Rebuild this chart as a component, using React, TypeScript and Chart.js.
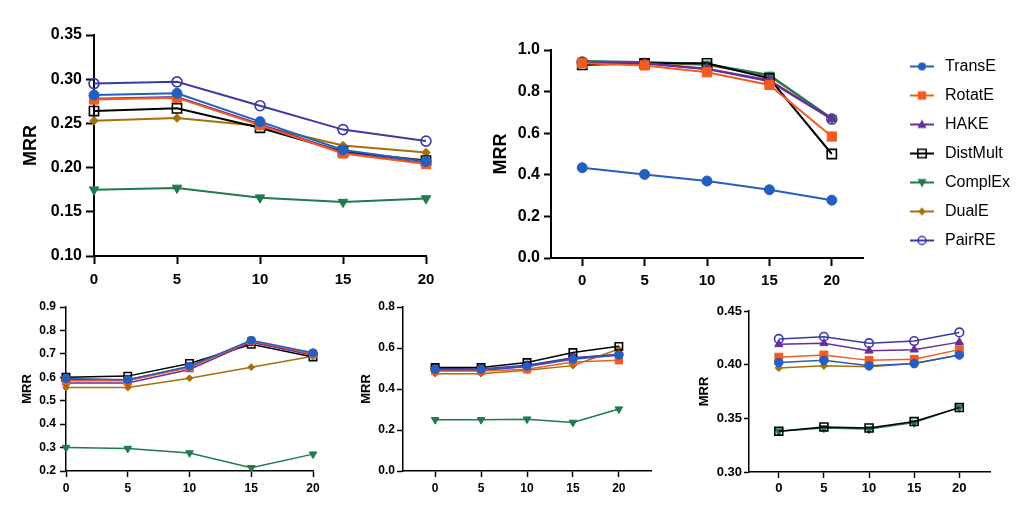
import React, { useEffect, useRef } from 'react';
import { Chart, registerables } from 'chart.js';

Chart.register(...registerables);

// ---------- shared categories ----------
const xValues = [0, 5, 10, 15, 20];
const models = ['TransE', 'RotatE', 'HAKE', 'DistMult', 'ComplEx', 'DualE', 'PairRE'];
const colors = ['#245fbf', '#f55a1e', '#6a2d9c', '#000000', '#1f7a4c', '#a66f0b', '#3c3aa6'];
const pointStyles = ['circle', 'rect', 'triangle', 'rect', 'triangle', 'rectRot', 'circle'];
const pointRotations = [0, 0, 0, 0, 180, 0, 0];
const hollow = [false, false, false, true, false, false, true];
const sizeFactor = [1, 1.3, 1.1, 1.3, 1.1, 0.85, 1];

// ---------- panel 1 (top-left) ----------
const p1TransE = [0.282, 0.284, 0.252, 0.220, 0.207];
const p1RotatE = [0.277, 0.279, 0.248, 0.216, 0.204];
const p1HAKE = [0.278, 0.280, 0.249, 0.217, 0.205];
const p1DistMult = [0.264, 0.267, 0.245, 0.218, 0.208];
const p1ComplEx = [0.175, 0.177, 0.166, 0.161, 0.165];
const p1DualE = [0.253, 0.256, 0.247, 0.225, 0.217];
const p1PairRE = [0.295, 0.297, 0.270, 0.243, 0.230];
const p1YTicks = [0.10, 0.15, 0.20, 0.25, 0.30, 0.35];

// ---------- panel 2 (top-right) ----------
const p2TransE = [0.434, 0.402, 0.370, 0.328, 0.278];
const p2RotatE = [0.936, 0.926, 0.893, 0.832, 0.584];
const p2HAKE = [0.940, 0.937, 0.910, 0.855, 0.669];
const p2DistMult = [0.928, 0.936, 0.936, 0.864, 0.500];
const p2ComplEx = [0.947, 0.942, 0.933, 0.880, 0.672];
const p2DualE = [0.945, 0.940, 0.928, 0.875, 0.670];
const p2PairRE = [0.942, 0.935, 0.908, 0.850, 0.668];
const p2YTicks = [0.0, 0.2, 0.4, 0.6, 0.8, 1.0];

// ---------- panel 3 (bottom-left) ----------
const p3TransE = [0.595, 0.590, 0.647, 0.758, 0.705];
const p3RotatE = [0.585, 0.585, 0.642, 0.755, 0.700];
const p3HAKE = [0.576, 0.576, 0.633, 0.750, 0.694];
const p3DistMult = [0.600, 0.605, 0.659, 0.741, 0.687];
const p3ComplEx = [0.300, 0.296, 0.277, 0.214, 0.272];
const p3DualE = [0.556, 0.556, 0.596, 0.643, 0.690];
const p3PairRE = [0.590, 0.590, 0.645, 0.752, 0.700];
const p3YTicks = [0.2, 0.3, 0.4, 0.5, 0.6, 0.7, 0.8, 0.9];

// ---------- panel 4 (bottom-middle) ----------
const p4TransE = [0.495, 0.495, 0.510, 0.545, 0.565];
const p4RotatE = [0.488, 0.488, 0.496, 0.532, 0.540];
const p4HAKE = [0.490, 0.490, 0.510, 0.550, 0.570];
const p4DistMult = [0.505, 0.505, 0.529, 0.578, 0.608];
const p4ComplEx = [0.250, 0.250, 0.253, 0.237, 0.302];
const p4DualE = [0.475, 0.475, 0.492, 0.514, 0.595];
const p4PairRE = [0.500, 0.498, 0.516, 0.552, 0.568];
const p4YTicks = [0.0, 0.2, 0.4, 0.6, 0.8];

// ---------- panel 5 (bottom-right) ----------
const p5TransE = [0.402, 0.404, 0.399, 0.401, 0.409];
const p5RotatE = [0.407, 0.409, 0.404, 0.405, 0.414];
const p5HAKE = [0.419, 0.420, 0.413, 0.414, 0.421];
const p5DistMult = [0.338, 0.342, 0.341, 0.347, 0.360];
const p5ComplEx = [0.338, 0.341, 0.340, 0.346, 0.360];
const p5DualE = [0.397, 0.399, 0.398, 0.401, 0.409];
const p5PairRE = [0.424, 0.426, 0.420, 0.422, 0.430];
const p5YTicks = [0.30, 0.35, 0.40, 0.45];

const FONT = '"Liberation Sans", Arial, Helvetica, sans-serif';
const W = 1024;
const H = 520;
const LEGEND_LEFT = 894;
const LEGEND_W = 400;

type Panel = {
  series: number[][];
  yTicks: number[];
  yDec: number;
  L: number; T: number; R: number; B: number;
  xMin: number; xMax: number;
  titleCx: number; titleSize: number;
  yFont: number; xFont: number;
  yTickLen: number; yPad: number;
  xTickLen: number; xPad: number;
  axisW: number; lineW: number; r: number;
};

const panels: Panel[] = [
  {
    series: [p1TransE, p1RotatE, p1HAKE, p1DistMult, p1ComplEx, p1DualE, p1PairRE],
    yTicks: p1YTicks, yDec: 2,
    L: 94, T: 35, R: 426, B: 256, xMin: 0, xMax: 20,
    titleCx: 31.5, titleSize: 18, yFont: 16, xFont: 15,
    yTickLen: 8, yPad: 4, xTickLen: 8, xPad: 7, axisW: 2, lineW: 2, r: 5,
  },
  {
    series: [p2TransE, p2RotatE, p2HAKE, p2DistMult, p2ComplEx, p2DualE, p2PairRE],
    yTicks: p2YTicks, yDec: 1,
    L: 551, T: 50, R: 863, B: 258, xMin: -2.5, xMax: 22.5,
    titleCx: 501, titleSize: 18, yFont: 16, xFont: 15,
    yTickLen: 7, yPad: 4, xTickLen: 8, xPad: 6, axisW: 2, lineW: 2, r: 5,
  },
  {
    series: [p3TransE, p3RotatE, p3HAKE, p3DistMult, p3ComplEx, p3DualE, p3PairRE],
    yTicks: p3YTicks, yDec: 1,
    L: 66, T: 307, R: 313, B: 471, xMin: 0, xMax: 20,
    titleCx: 27, titleSize: 13, yFont: 12, xFont: 12,
    yTickLen: 6, yPad: 4, xTickLen: 6, xPad: 4, axisW: 1.5, lineW: 1.5, r: 4,
  },
  {
    series: [p4TransE, p4RotatE, p4HAKE, p4DistMult, p4ComplEx, p4DualE, p4PairRE],
    yTicks: p4YTicks, yDec: 1,
    L: 403, T: 307, R: 651, B: 471, xMin: -3.5, xMax: 23.5,
    titleCx: 366, titleSize: 13, yFont: 12, xFont: 12,
    yTickLen: 6, yPad: 2, xTickLen: 6, xPad: 4, axisW: 1.5, lineW: 1.5, r: 4,
  },
  {
    series: [p5TransE, p5RotatE, p5HAKE, p5DistMult, p5ComplEx, p5DualE, p5PairRE],
    yTicks: p5YTicks, yDec: 2,
    L: 749, T: 311, R: 990, B: 472, xMin: -3.3, xMax: 23.4,
    titleCx: 704, titleSize: 13, yFont: 13, xFont: 13,
    yTickLen: 5, yPad: 2, xTickLen: 6, xPad: 3, axisW: 1.5, lineW: 1.5, r: 4.3,
  },
];

function makePanel(canvas: HTMLCanvasElement, p: Panel): Chart {
  const titleLH = p.titleSize * 1.2;
  const padLeft = p.titleCx - titleLH / 2;
  return new Chart(canvas, {
    type: 'line',
    data: {
      datasets: models.map((m, i) => ({
        label: m,
        data: xValues.map((x, j) => ({ x, y: p.series[i][j] })),
        borderColor: colors[i],
        backgroundColor: hollow[i] ? 'rgba(0,0,0,0)' : colors[i],
        pointBackgroundColor: hollow[i] ? 'rgba(0,0,0,0)' : colors[i],
        pointBorderColor: colors[i],
        pointStyle: pointStyles[i] as any,
        rotation: pointRotations[i],
        pointRadius: p.r * sizeFactor[i],
        pointBorderWidth: hollow[i] ? 1.6 : 1,
        borderWidth: p.lineW,
        tension: 0,
        fill: false,
        clip: false as any,
      })),
    },
    options: {
      responsive: false,
      animation: false,
      events: [],
      layout: { padding: { left: padLeft, top: p.T, right: W - p.R, bottom: 0 } },
      plugins: { legend: { display: false }, tooltip: { enabled: false } },
      scales: {
        x: {
          type: 'linear',
          min: p.xMin,
          max: p.xMax,
          afterBuildTicks: (s: any) => { s.ticks = xValues.map((v) => ({ value: v })); },
          afterFit: (s: any) => { s.height = H - p.B; },
          ticks: {
            autoSkip: false, maxRotation: 0, color: '#000', padding: p.xPad,
            font: { family: FONT, size: p.xFont, weight: 'bold' },
            callback: (v: any) => String(v),
          },
          grid: { drawOnChartArea: false, drawTicks: true, tickLength: p.xTickLen, tickWidth: p.axisW, tickColor: '#000' },
          border: { display: true, color: '#000', width: p.axisW },
        },
        y: {
          type: 'linear',
          min: p.yTicks[0],
          max: p.yTicks[p.yTicks.length - 1],
          afterBuildTicks: (s: any) => { s.ticks = p.yTicks.map((v) => ({ value: v })); },
          afterFit: (s: any) => { s.width = p.L - padLeft; },
          title: {
            display: true, text: 'MRR', color: '#000', padding: 0,
            font: { family: FONT, size: p.titleSize, weight: 'bold' },
          },
          ticks: {
            autoSkip: false, color: '#000', padding: p.yPad,
            font: { family: FONT, size: p.yFont, weight: 'bold' },
            callback: (v: any) => Number(v).toFixed(p.yDec),
          },
          grid: { drawOnChartArea: false, drawTicks: true, tickLength: p.yTickLen, tickWidth: p.axisW, tickColor: '#000' },
          border: { display: true, color: '#000', width: p.axisW },
        },
      },
    } as any,
  });
}

function makeIcon(i: number): HTMLCanvasElement {
  const c = document.createElement('canvas');
  c.width = 26;
  c.height = 14;
  const ctx = c.getContext('2d')!;
  const cx = 13, cy = 7;
  ctx.strokeStyle = colors[i];
  ctx.fillStyle = colors[i];
  ctx.lineWidth = 2;
  ctx.beginPath();
  ctx.moveTo(1, cy);
  ctx.lineTo(25, cy);
  ctx.stroke();
  ctx.lineWidth = 1.5;
  ctx.beginPath();
  const style = pointStyles[i];
  if (style === 'circle') {
    ctx.arc(cx, cy, 4, 0, Math.PI * 2);
  } else if (style === 'rect') {
    ctx.rect(cx - 4.2, cy - 4.2, 8.4, 8.4);
  } else if (style === 'triangle') {
    const s = pointRotations[i] === 180 ? -1 : 1;
    ctx.moveTo(cx, cy - 5 * s);
    ctx.lineTo(cx + 4.5, cy + 3.5 * s);
    ctx.lineTo(cx - 4.5, cy + 3.5 * s);
    ctx.closePath();
  } else if (style === 'rectRot') {
    ctx.moveTo(cx, cy - 4);
    ctx.lineTo(cx + 4, cy);
    ctx.lineTo(cx, cy + 4);
    ctx.lineTo(cx - 4, cy);
    ctx.closePath();
  }
  if (hollow[i]) ctx.stroke();
  else ctx.fill();
  return c;
}

function makeLegend(canvas: HTMLCanvasElement): Chart {
  const icons = models.map((_, i) => makeIcon(i));
  return new Chart(canvas, {
    type: 'line',
    data: {
      datasets: models.map((m, i) => ({
        label: m, data: [], borderColor: colors[i], backgroundColor: colors[i], pointStyle: icons[i] as any,
      })),
    },
    options: {
      responsive: false,
      animation: false,
      events: [],
      layout: { padding: { left: 0, top: 45.5 } },
      plugins: {
        tooltip: { enabled: false },
        legend: {
          position: 'left',
          align: 'start',
          labels: {
            usePointStyle: true,
            pointStyleWidth: 30,
            padding: 13,
            color: '#000',
            font: { family: FONT, size: 16 },
            generateLabels: () => models.map((m, i) => ({
              text: m, pointStyle: icons[i], fillStyle: colors[i], strokeStyle: colors[i],
              lineWidth: 0, hidden: false, datasetIndex: i, fontColor: '#000',
            })),
          },
        },
      },
      scales: { x: { display: false }, y: { display: false } },
    } as any,
  });
}

export default function App() {
  const refs = useRef<(HTMLCanvasElement | null)[]>([]);
  useEffect(() => {
    const charts: Chart[] = [];
    panels.forEach((p, i) => {
      const c = refs.current[i];
      if (c) charts.push(makePanel(c, p));
    });
    const lc = refs.current[panels.length];
    if (lc) charts.push(makeLegend(lc));
    return () => charts.forEach((c) => c.destroy());
  }, []);
  return (
    <div style={{ position: 'fixed', left: 0, top: 0, width: W, height: H, background: '#fff', overflow: 'hidden' }}>
      {panels.map((_, i) => (
        <canvas
          key={i}
          ref={(el) => { refs.current[i] = el; }}
          width={W}
          height={H}
          style={{ position: 'absolute', left: 0, top: 0 }}
        />
      ))}
      <canvas
        ref={(el) => { refs.current[panels.length] = el; }}
        width={LEGEND_W}
        height={H}
        style={{ position: 'absolute', left: LEGEND_LEFT, top: 0 }}
      />
    </div>
  );
}
